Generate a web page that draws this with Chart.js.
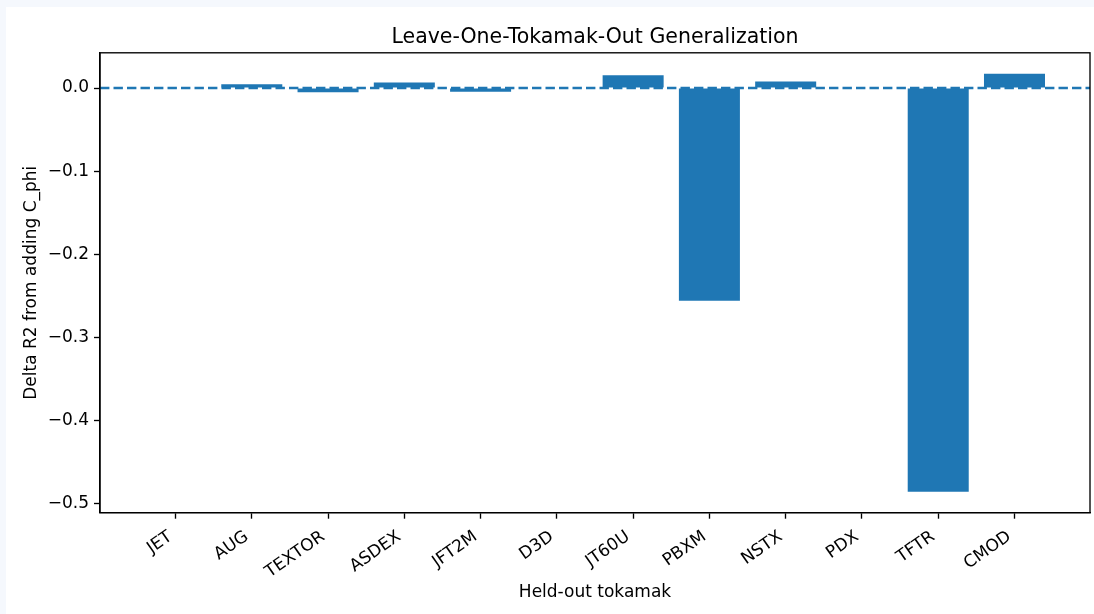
<!DOCTYPE html>
<html><head><meta charset="utf-8">
<script src="https://cdn.jsdelivr.net/npm/chart.js@4.4.1/dist/chart.umd.min.js"></script>
<style>
html,body{margin:0;padding:0;background:#f5f8fd;width:1094px;height:614px;overflow:hidden}
#wrap{position:absolute;left:6px;top:7px;width:1088px;height:607px;background:#fff}
canvas{display:block}
</style></head><body>
<div id="wrap"><canvas id="c" width="1088" height="607"></canvas></div>
<script>
const categories = ['JET','AUG','TEXTOR','ASDEX','JFT2M','D3D','JT60U','PBXM','NSTX','PDX','TFTR','CMOD'];
const deltaR2 = [0.000, 0.0045, -0.005, 0.0065, -0.0045, 0.000, 0.0153, -0.256, 0.008, 0.000, -0.486, 0.0172];
const yTickValues = [0, -0.1, -0.2, -0.3, -0.4, -0.5];
const xTickValues = categories.map((c, i) => i);
const referenceValue = 0;

const FONT = 'DejaVu Sans';
const BLUE = '#1f77b4';

const frameAndRefLine = {
  id: 'frameAndRefLine',
  afterDatasetsDraw(chart) {
    const {ctx, chartArea: a, scales} = chart;
    const y = scales.y.getPixelForValue(referenceValue);
    ctx.save();
    ctx.beginPath();
    ctx.rect(a.left, a.top, a.right - a.left, a.bottom - a.top);
    ctx.clip();
    ctx.strokeStyle = BLUE;
    ctx.lineWidth = 2.5;
    ctx.setLineDash([9.4, 4.1]);
    ctx.beginPath();
    ctx.moveTo(a.left, y);
    ctx.lineTo(a.right, y);
    ctx.stroke();
    ctx.restore();
    ctx.save();
    ctx.strokeStyle = '#000';
    ctx.lineWidth = 1.35;
    ctx.strokeRect(a.left, a.top, a.right - a.left, a.bottom - a.top);
    ctx.restore();
  }
};

new Chart(document.getElementById('c').getContext('2d'), {
  type: 'bar',
  data: {
    datasets: [{
      data: categories.map((c, i) => ({x: i, y: deltaR2[i]})),
      backgroundColor: BLUE,
      borderWidth: 0,
      categoryPercentage: 1,
      barPercentage: 0.8
    }]
  },
  options: {
    responsive: false,
    devicePixelRatio: 1,
    animation: false,
    layout: {padding: {left: 0, right: 4, top: 0, bottom: 0}},
    plugins: {
      legend: {display: false},
      tooltip: {enabled: false},
      title: {
        display: true,
        fullSize: false,
        text: 'Leave-One-Tokamak-Out Generalization',
        color: '#000',
        font: {family: FONT, size: 20.5, weight: 'normal'},
        padding: {top: 18.7, bottom: 2.5}
      }
    },
    scales: {
      x: {
        type: 'linear',
        min: -0.99, max: 11.99,
        offset: false,
        afterBuildTicks: s => { s.ticks = xTickValues.map(v => ({value: v})); },
        afterFit: s => { s.height = 101.3; },
        ticks: {
          autoSkip: false,
          callback: v => categories[v],
          minRotation: 35, maxRotation: 35,
          color: '#000',
          font: {family: FONT, size: 17},
          padding: 8,
          labelOffset: -5
        },
        grid: {offset: false, drawOnChartArea: false, drawTicks: true, tickLength: 6, tickColor: '#000', tickWidth: 1.35},
        border: {display: true, color: '#000', width: 1.35},
        title: {display: true, text: 'Held-out tokamak', color: '#000', font: {family: FONT, size: 17}, padding: {top: 0, bottom: 11}}
      },
      y: {
        min: -0.5112, max: 0.0424,
        afterBuildTicks: s => { s.ticks = yTickValues.map(v => ({value: v})); },
        afterFit: s => { s.width = 94; },
        ticks: {
          callback: v => (v < 0 ? '\u2212' : '') + Math.abs(v).toFixed(1),
          color: '#000',
          font: {family: FONT, size: 17},
          padding: 5
        },
        grid: {drawOnChartArea: false, drawTicks: true, tickLength: 6, tickColor: '#000', tickWidth: 1.35},
        border: {display: true, color: '#000', width: 1.35},
        title: {display: true, text: 'Delta R2 from adding C_phi', color: '#000', font: {family: FONT, size: 17}, padding: {top: 15.5, bottom: 0}}
      }
    }
  },
  plugins: [frameAndRefLine]
});
</script>
</body></html>
